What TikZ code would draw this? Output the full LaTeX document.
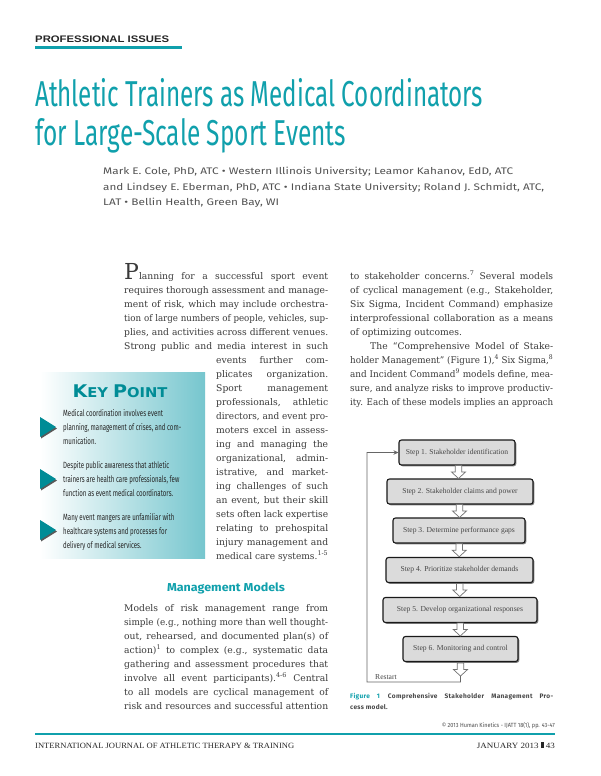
\documentclass[tikz,border=0pt]{standalone}
\usepackage{fontspec}
\usepackage{graphicx}
\setmainfont{DejaVu Serif}
\newfontfamily\sansf{Fira Sans}
\newfontfamily\capfont[LetterSpace=5]{Fira Sans}
\newfontfamily\libsans{Liberation Sans}
\newfontfamily\libserif{Liberation Serif}
\newfontfamily\djsans{DejaVu Sans}
\usetikzlibrary{shadows,calc,arrows.meta}
\definecolor{teal1}{RGB}{16,160,172}
\definecolor{tealdark}{RGB}{0,140,150}
\definecolor{keyteal}{RGB}{118,198,206}
\definecolor{bodyc}{RGB}{58,58,58}
\newsavebox\fitbox
\newdimen\colw
\newcommand\fitw[2]{\sbox\fitbox{#2}\edef\fitfac{\fpeval{#1/\the\wd\fitbox}}\scalebox{\fitfac}[1]{\usebox\fitbox}}
\newcommand\jl[1]{\sbox\fitbox{#1}\ifdim\wd\fitbox>\colw\edef\fitfac{\fpeval{\the\colw/\the\wd\fitbox}}\hbox to\colw{\scalebox{\fitfac}[1]{\usebox\fitbox}\hss}\else\hbox to\colw{#1}\fi}
\newcommand\jlast[1]{\hbox{#1}}
\newcommand\bodysize{\fontsize{9.2}{14}\selectfont}
\newcommand\sups[1]{\textsuperscript{#1}}
\newcommand\kpsize{\raggedright\sansf\fontsize{9}{14}\selectfont}
\tikzset{
  bodytxt/.style={inner sep=0pt, anchor=base west, text=bodyc},
  stepbox/.style={draw=black!90, line width=1.1pt, rounded corners=2.5pt, fill=black!14,
    minimum height=25pt, inner sep=0pt, text=black!72,
    font=\libserif\fontsize{7.6}{9}\selectfont,
    drop shadow={shadow xshift=1.3pt, shadow yshift=-1.3pt, opacity=0.7, fill=black!70}},
  restartline/.style={draw=black!60, line width=0.8pt},
  kptext/.style={inner sep=0pt, anchor=base west, text=black!85},
  hollow/.pic={\draw[black!55, line width=0.7pt, fill=white]
    (-3.2,-6.5) -- (3.2,-6.5) -- (3.2,0) -- (7,0) -- (0,6.5) -- (-7,0) -- (-3.2,0) -- cycle;}
}
\begin{document}
\begin{tikzpicture}[x=1pt,y=-1pt]
\useasboundingbox (0,0) rectangle (600,776);
\fill[white] (0,0) rectangle (600,776);

% header
\node[inner sep=0pt, anchor=base west, text=black!85] (hdr) at (35,43)
  {\fitw{134}{\libsans\bfseries\fontsize{9.5}{10}\selectfont PROFESSIONAL ISSUES}};
\draw[teal1, line width=3.5pt] (35,47.5) -- (182,47.5);

% title
\node[inner sep=0pt, anchor=base west, text=teal1] (t1) at (35,106)
  {\fitw{448}{\sansf\fontsize{36}{36}\selectfont Athletic Trainers as Medical Coordinators}};
\node[inner sep=0pt, anchor=base west, text=teal1] (t2) at (35,145)
  {\fitw{311}{\sansf\fontsize{36}{36}\selectfont for Large-Scale Sport Events}};

% authors
\node[inner sep=0pt, anchor=base west, text=black!68] (a1) at (103,174.5)
  {\fitw{410}{\sansf\fontsize{9.5}{10}\selectfont Mark E. Cole, PhD, ATC • Western Illinois University; Leamor Kahanov, EdD, ATC}};
\node[inner sep=0pt, anchor=base west, text=black!68] (a2) at (103,190)
  {\fitw{441}{\sansf\fontsize{9.5}{10}\selectfont and Lindsey E. Eberman, PhD, ATC • Indiana State University; Roland J. Schmidt, ATC,}};
\node[inner sep=0pt, anchor=base west, text=black!68] (a3) at (103,205.5)
  {\fitw{176}{\sansf\fontsize{9.5}{10}\selectfont LAT • Bellin Health, Green Bay, WI}};

% key point box
\shade[left color=white, right color=keyteal] (40,372) rectangle (205,558);
\node[inner sep=0pt, anchor=base, text=tealdark] (kph) at (120,397)
  {\fitw{95}{\djsans\bfseries\fontsize{17.5}{17.5}\selectfont K\fontsize{13.5}{13.5}\selectfont EY \fontsize{17.5}{17.5}\selectfont P\fontsize{13.5}{13.5}\selectfont OINT}};
\foreach \ty in {427,479,530}{
  \fill[black!65] (41,\ty-9) -- (57,\ty+1.5) -- (41,\ty+11.5) -- cycle;
  \fill[tealdark] (40,\ty-10) -- (56,\ty) -- (40,\ty+10) -- cycle;
}
\node[kptext] (kp1) at (63,416.5) {\scalebox{0.68}[1]{\parbox[t]{240pt}{\kpsize
  Medical coordination involves event\\planning, management of crises, and com-\\munication.}}};
\node[kptext] (kp2) at (63,468.5) {\scalebox{0.68}[1]{\parbox[t]{240pt}{\kpsize
  Despite public awareness that athletic\\trainers are health care professionals, few\\function as event medical coordinators.}}};
\node[kptext] (kp3) at (63,520.5) {\scalebox{0.68}[1]{\parbox[t]{240pt}{\kpsize
  Many event mangers are unfamiliar with\\healthcare systems and processes for\\delivery of medical services.}}};

% left column
\node[bodytxt] (pa) at (124,279.5) {\colw=204pt\relax\parbox[t]{\colw}{\bodysize
  \jl{{\fontsize{22}{22}\selectfont P}lanning for a successful sport event}
  \jl{requires thorough assessment and manage-}
  \jl{ment of risk, which may include orchestra-}
  \jl{tion of large numbers of people, vehicles, sup-}
  \jl{plies, and activities across different venues.}
  \jl{Strong public and media interest in such}}};
\node[bodytxt] (pb) at (216,363.5) {\colw=112pt\relax\parbox[t]{\colw}{\bodysize
  \jl{events further com-}
  \jl{plicates organization.}
  \jl{Sport management}
  \jl{professionals, athletic}
  \jl{directors, and event pro-}
  \jl{moters excel in assess-}
  \jl{ing and managing the}
  \jl{organizational, admin-}
  \jl{istrative, and market-}
  \jl{ing challenges of such}
  \jl{an event, but their skill}
  \jl{sets often lack expertise}
  \jl{relating to prehospital}
  \jl{injury management and}
  \jl{medical care systems.\sups{1-5}}}};
\node[inner sep=0pt, anchor=base, text=teal1] (mmh) at (226,591)
  {\fitw{118}{\sansf\bfseries\fontsize{11.5}{12}\selectfont Management Models}};
\node[bodytxt] (pc) at (124,611.5) {\colw=204pt\relax\parbox[t]{\colw}{\bodysize
  \jl{Models of risk management range from}
  \jl{simple (e.g., nothing more than well thought-}
  \jl{out, rehearsed, and documented plan(s) of}
  \jl{action)\sups{1} to complex (e.g., systematic data}
  \jl{gathering and assessment procedures that}
  \jl{involve all event participants).\sups{4-6} Central}
  \jl{to all models are cyclical management of}
  \jl{risk and resources and successful attention}}};

% right column
\node[bodytxt] (rc) at (350,279.5) {\colw=203pt\relax\parbox[t]{\colw}{\bodysize
  \jl{to stakeholder concerns.\sups{7} Several models}
  \jl{of cyclical management (e.g., Stakeholder,}
  \jl{Six Sigma, Incident Command) emphasize}
  \jl{interprofessional collaboration as a means}
  \jlast{of optimizing outcomes.}
  \jl{\hspace*{20pt}The “Comprehensive Model of Stake-}
  \jl{holder Management” (Figure 1),\sups{4} Six Sigma,\sups{8}}
  \jl{and Incident Command\sups{9} models define, mea-}
  \jl{sure, and analyze risks to improve productiv-}
  \jl{ity. Each of these models implies an approach}}};

% figure
\node[stepbox, minimum width=116pt] (s1) at (457,452.5) {Step 1. Stakeholder identification};
\node[stepbox, minimum width=146pt] (s2) at (460,491.5) {Step 2. Stakeholder claims and power};
\node[stepbox, minimum width=132pt] (s3) at (459,530.5) {Step 3. Determine performance gaps};
\node[stepbox, minimum width=147pt] (s4) at (459.5,570) {Step 4. Prioritize stakeholder demands};
\node[stepbox, minimum width=154pt] (s5) at (460,610) {Step 5. Develop organizational responses};
\node[stepbox, minimum width=115pt] (s6) at (460.5,649) {Step 6. Monitoring and control};
\pic at ($(s1.south)!0.5!(s2.north)$) {hollow};
\pic at ($(s2.south)!0.5!(s3.north)$) {hollow};
\pic at ($(s3.south)!0.5!(s4.north)$) {hollow};
\pic at ($(s4.south)!0.5!(s5.north)$) {hollow};
\pic at ($(s5.south)!0.5!(s6.north)$) {hollow};
\pic at ([yshift=-7.5pt]s6.south) {hollow};
\coordinate (atip) at ([yshift=-14pt]s6.south);
\coordinate (rb) at ([yshift=-20pt]s6.south);
\coordinate (rl) at (367,682);
\draw[restartline, -{Stealth[length=5pt,width=4.5pt]}] (atip) -- (rb) -- (rl) |- (s1.west);
\node[inner sep=0pt, anchor=base west, text=black!72, font=\libserif\fontsize{7.6}{9}\selectfont] (rlab) at (375,679) {Restart};

% caption
\node[inner sep=0pt, anchor=base west, text=black!72] (cap) at (350,698) {\colw=203pt\relax\parbox[t]{\colw}{\capfont\bfseries\fontsize{6.5}{11.5}\selectfont
  \jl{\textcolor{teal1}{Figure 1}\hspace{8pt}Comprehensive Stakeholder Management Pro-}
  \jlast{cess model.}}};

% footer
\node[inner sep=0pt, anchor=base east, text=black!70] (cr) at (555,727)
  {\fitw{113}{\sansf\fontsize{6}{6}\selectfont © 2013 Human Kinetics - IJATT 18(1), pp. 43-47}};
\draw[teal1, line width=1.2pt] (35,734) -- (555,734);
\node[inner sep=0pt, anchor=base west, text=black!85] (ft1) at (35,748)
  {\fitw{259}{\libserif\fontsize{8}{8}\selectfont INTERNATIONAL JOURNAL OF ATHLETIC THERAPY \& TRAINING}};
\node[inner sep=0pt, anchor=base east, text=black!85] (ft2) at (555,748)
  {\fitw{78}{\libserif\fontsize{8}{8}\selectfont JANUARY 2013 \rule{2.4pt}{6pt} 43}};
\end{tikzpicture}
\end{document}
